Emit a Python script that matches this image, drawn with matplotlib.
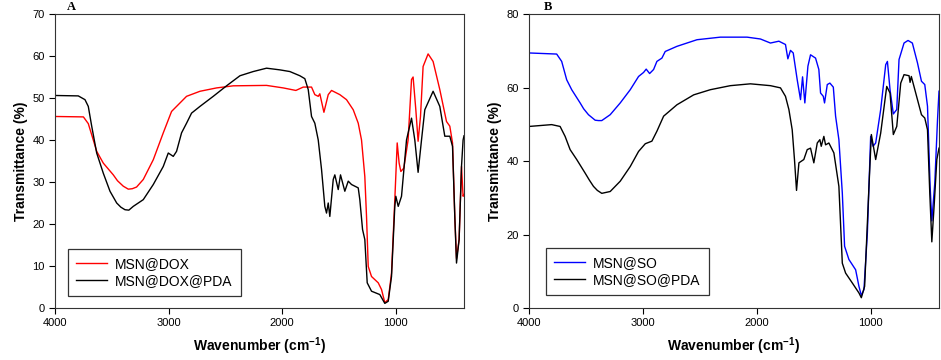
import matplotlib
matplotlib.use("Agg")
import matplotlib.pyplot as plt
import numpy as np

plt.rcParams['font.family'] = ['Liberation Sans', 'DejaVu Sans']
plt.rcParams['mathtext.fontset'] = 'custom'
plt.rcParams['mathtext.rm'] = 'Liberation Sans'
plt.rcParams['mathtext.bf'] = 'Liberation Sans:bold'

# ---------------- Panel A data ----------------
a_dox_w = [4000, 3750, 3707, 3663, 3633, 3575, 3487, 3450, 3399, 3355, 3320, 3282, 3223, 3135, 3047, 2974, 2930, 2842,
           2724, 2578, 2431, 2138, 1991, 1880, 1815, 1742, 1713, 1683, 1669, 1633, 1595, 1566, 1493, 1434,
           1375, 1331, 1302, 1273, 1258, 1243, 1214, 1155, 1126, 1097, 1067, 1038, 1009, 988, 971, 956,
           930, 892, 862, 848, 824, 804, 783, 760, 716, 672, 613, 554, 525, 501, 481, 466, 443, 422, 408, 400]
a_dox_t = [45.6, 45.5, 43.9, 40.0, 37.3, 34.5, 31.7, 30.3, 29.0, 28.3, 28.4, 28.8, 30.6, 35.3, 41.7, 46.8, 48.0, 50.4,
           51.6, 52.4, 52.9, 53.0, 52.4, 51.8, 52.6, 52.6, 50.8, 50.4, 51.0, 46.6, 50.8, 51.8, 50.8, 49.6,
           47.2, 44.0, 40.0, 31.3, 21.8, 9.9, 7.5, 6.0, 4.4, 1.3, 2.0, 8.3, 25.8, 39.3, 34.5, 32.5,
           33.3, 40.0, 54.4, 55.0, 47.2, 39.7, 45.6, 57.5, 60.5, 58.7, 52.0, 44.4, 43.3, 39.3, 21.8, 11.8, 16.3, 33.7, 26.6, 27.0]

a_pda_w = [4000, 3795, 3736, 3707, 3677, 3633, 3575, 3516, 3457, 3420, 3384, 3350, 3311, 3223, 3135, 3047, 3003, 2959,
           2930, 2886, 2842, 2798, 2724, 2607, 2490, 2372, 2255, 2138, 2021, 1933, 1845, 1801, 1771, 1742,
           1713, 1683, 1654, 1625, 1610, 1595, 1581, 1551, 1537, 1507, 1487, 1449, 1419, 1390, 1331, 1317,
           1293, 1273, 1252, 1214, 1141, 1097, 1067, 1038, 1009, 1000, 979, 950, 906, 862, 833, 804,
           774, 745, 672, 613, 569, 525, 501, 481, 466, 443, 422, 408, 400]
a_pda_t = [50.6, 50.5, 49.6, 48.0, 43.3, 36.9, 32.1, 27.8, 25.0, 24.0, 23.4, 23.3, 24.2, 25.8, 29.4, 33.7, 36.9, 36.1,
           37.3, 41.7, 44.0, 46.4, 48.0, 50.4, 52.9, 55.3, 56.3, 57.1, 56.7, 56.3, 55.3, 54.6, 52.0, 45.6,
           44.0, 40.0, 33.0, 24.2, 22.6, 25.0, 21.8, 30.6, 31.7, 28.2, 31.7, 27.8, 30.2, 29.4, 28.6, 25.8,
           18.7, 16.3, 6.0, 4.0, 3.2, 1.1, 1.6, 7.5, 24.2, 26.6, 24.2, 26.6, 40.0, 45.2, 40.0, 32.3,
           40.0, 47.2, 51.6, 48.0, 40.9, 40.9, 38.5, 21.8, 10.7, 16.3, 33.7, 40.0, 41.0]

# ---------------- Panel B data ----------------
b_so_w = [4000, 3757, 3713, 3669, 3625, 3551, 3520, 3478, 3419, 3390, 3361, 3287, 3199, 3111, 3038, 2994, 2971, 2941,
          2906, 2877, 2833, 2804, 2701, 2525, 2320, 2085, 1968, 1880, 1806, 1748, 1727, 1704, 1680, 1645,
          1616, 1598, 1578, 1551, 1528, 1484, 1455, 1440, 1416, 1405, 1381, 1358, 1328, 1308, 1279, 1249,
          1229, 1191, 1132, 1103, 1082, 1059, 1029, 1000, 979, 956, 912, 868, 853, 830, 801, 771,
          751, 707, 672, 634, 589, 554, 525, 501, 478, 463, 437, 413, 400]
b_so_t = [69.4, 69.1, 67.1, 62.1, 59.4, 55.8, 54.2, 52.6, 51.1, 51.0, 51.0, 52.6, 55.8, 59.4, 63.0, 64.1, 65.0, 63.8,
          64.9, 67.1, 68.0, 69.8, 71.2, 73.0, 73.7, 73.7, 73.2, 72.1, 72.6, 71.7, 67.8, 70.1, 69.4, 62.1,
          56.7, 62.9, 55.8, 65.8, 68.9, 68.0, 64.9, 58.5, 57.6, 55.8, 60.8, 61.2, 60.1, 52.2, 45.8, 31.3,
          16.8, 13.2, 10.4, 5.9, 3.4, 5.0, 20.4, 46.7, 44.0, 44.9, 54.0, 66.2, 67.1, 59.4, 52.8, 54.0,
          67.6, 72.1, 72.8, 72.1, 66.7, 61.7, 60.8, 54.9, 33.1, 23.7, 34.0, 51.2, 59.0]

b_pda_w = [4000, 3801, 3727, 3683, 3639, 3581, 3507, 3470, 3434, 3400, 3361, 3287, 3199, 3111, 3038, 2979, 2921, 2877,
           2818, 2701, 2554, 2408, 2232, 2056, 1880, 1792, 1748, 1718, 1689, 1669, 1651, 1630, 1587, 1557,
           1528, 1499, 1469, 1446, 1434, 1411, 1396, 1367, 1323, 1279, 1249, 1220, 1161, 1103, 1082, 1053,
           1015, 994, 971, 956, 912, 859, 830, 801, 771, 736, 707, 663, 654, 643, 589, 554,
           525, 501, 481, 463, 443, 419, 400]
b_pda_t = [49.4, 49.9, 49.4, 46.7, 43.1, 40.4, 36.7, 34.8, 33.1, 32.0, 31.2, 31.7, 34.5, 38.5, 42.6, 44.7, 45.4, 48.1,
           52.2, 55.3, 58.0, 59.4, 60.5, 61.0, 60.5, 59.9, 57.6, 54.0, 48.5, 40.4, 32.0, 39.5, 40.4, 43.1,
           43.5, 39.5, 44.9, 45.8, 44.0, 46.7, 44.4, 44.9, 42.2, 33.1, 12.2, 9.5, 6.8, 4.1, 2.8, 5.9,
           33.1, 47.2, 43.1, 40.4, 47.6, 60.3, 58.5, 47.2, 49.4, 61.2, 63.5, 63.2, 61.4, 63.0, 56.7, 52.6,
           51.7, 48.5, 31.3, 18.0, 27.7, 40.4, 43.5]

a_ticks_y = [0, 10, 20, 30, 40, 50, 60, 70]
b_ticks_y = [0, 20, 40, 60, 80]
x_ticks = [4000, 3000, 2000, 1000]

fig = plt.figure(figsize=(9.41, 3.60), dpi=100)
axA = fig.add_axes([55/941, 52/360, 409/941, 294/360])
axB = fig.add_axes([529/941, 52/360, 410/941, 294/360])

axA.plot(a_dox_w, a_dox_t, color='#ff0000', lw=1.0, label='MSN@DOX')
axA.plot(a_pda_w, a_pda_t, color='black', lw=1.0, label='MSN@DOX@PDA')
axB.plot(b_so_w, b_so_t, color='#0000ff', lw=1.0, label='MSN@SO')
axB.plot(b_pda_w, b_pda_t, color='black', lw=1.0, label='MSN@SO@PDA')

for ax, yt, ymax, lab, lx in [(axA, a_ticks_y, 70, 'A', 0.03), (axB, b_ticks_y, 80, 'B', 0.035)]:
    ax.set_xlim(4000, 400)
    ax.set_ylim(0, ymax)
    ax.set_xticks(x_ticks)
    ax.set_yticks(yt)
    ax.tick_params(direction='out', length=4.5, width=0.8, labelsize=8, pad=3, colors='black')
    for s in ax.spines.values():
        s.set_linewidth(0.8)
        s.set_color('#333333')
    ax.set_xlabel(r'Wavenumber (cm$^{\mathbf{-1}}$)', fontsize=10, fontweight='bold', labelpad=5)
    ax.set_ylabel('Transmittance (%)', fontsize=10, fontweight='bold', labelpad=3)
    ax.text(lx, 1.005, lab, transform=ax.transAxes, fontsize=9, fontweight='bold',
            family=['Liberation Serif', 'DejaVu Serif'], va='bottom', ha='left')

legA = axA.legend(loc='lower left', bbox_to_anchor=(0.032, 0.041), borderaxespad=0, fontsize=10,
                  handlelength=2.2, frameon=True, fancybox=False, edgecolor='black',
                  borderpad=0.6, labelspacing=0.2, handletextpad=0.6)
legB = axB.legend(loc='lower left', bbox_to_anchor=(0.041, 0.044), borderaxespad=0, fontsize=10,
                  handlelength=2.2, frameon=True, fancybox=False, edgecolor='black',
                  borderpad=0.6, labelspacing=0.2, handletextpad=0.6)
for leg in (legA, legB):
    leg.get_frame().set_linewidth(0.9)

fig.savefig('out.png', dpi=100)
